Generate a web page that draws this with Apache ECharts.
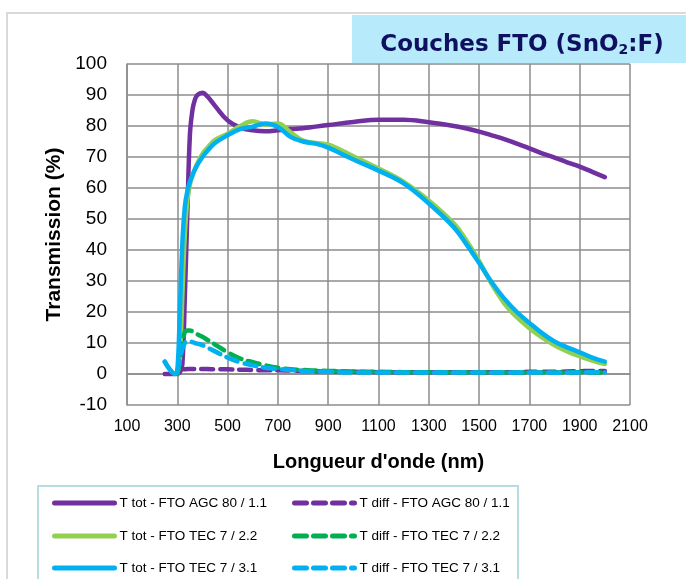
<!DOCTYPE html>
<html>
<head>
<meta charset="utf-8">
<script src="https://cdn.jsdelivr.net/npm/echarts@6/dist/echarts.min.js"></script>
<style>html,body{margin:0;padding:0;background:#fff;}#c{width:686px;height:579px;}</style>
</head>
<body>
<div id="c"></div>
<script>
const wavelengths = [250,270,290,300,310,320,330,340,350,360,370,380,400,420,450,500,550,600,650,700,750,800,850,900,1000,1100,1200,1300,1400,1450,1500,1550,1600,1650,1700,1750,1800,1850,1900,1950,2000];

const totAGC = [null,null,null,0,0.5,3,25,52,77,85,88.5,90,90.7,89.5,86.5,81.8,79.5,78.6,78.3,78.6,79,79.3,79.8,80.3,81.3,82,82,81.2,80,79.2,78.2,77,75.8,74.3,72.8,71.2,69.8,68.3,66.9,65.2,63.5];
const diffAGC = [0,0,0,0.3,1,1.5,1.5,1.6,1.6,1.6,1.6,1.6,1.6,1.6,1.5,1.5,1.4,1.3,1.2,1.2,1.1,1,0.9,0.8,0.7,0.6,0.6,0.6,0.6,0.6,0.6,0.6,0.6,0.6,0.7,0.7,0.7,0.8,0.9,1,1];
const totTEC22 = [null,null,null,0,5,25,45,56,61,64,66,68,71,73,75.5,77.5,80,81.5,80.5,80.8,78,75.3,74.5,74,70.2,66.3,62,56,48.5,43,36.5,29,22.8,18.3,14.8,11.8,9.3,7.3,5.7,4.3,3.2];
const diffTEC22 = [null,null,null,0,4,10,13.5,14,14,13.8,13.3,12.8,12,11,9.5,7,5,3.8,2.8,2,1.5,1.3,1.1,1,0.8,0.7,0.6,0.6,0.5,0.5,0.5,0.5,0.5,0.5,0.5,0.5,0.5,0.5,0.6,0.5,0.5];
const totTEC31 = [4,1.5,0,1,20,42,54,59,62,64,66,67.5,70,72,74.5,77,79,79.8,80.8,79.7,76.5,75,74.3,73,69.2,65.6,61.5,55,47.3,41.8,35.8,29.6,24.3,20,16.5,13.2,10.5,8.6,7,5.3,4];
const diffTEC31 = [4,1.5,0,1,5,8,10,10.5,10.5,10.3,10,9.8,9.3,8.5,7.3,5.3,3.8,2.8,2,1.6,1.3,1,0.8,0.7,0.5,0.5,0.5,0.5,0.5,0.5,0.5,0.5,0.5,0.5,0.5,0.5,0.4,0.5,0.5,0.6,0.5];

const xTicks = {min:100, max:2100, interval:200};
const yTicks = {min:-10, max:100, interval:10};

const names = {
  totAGC:'T tot - FTO AGC 80 / 1.1', diffAGC:'T diff - FTO AGC 80 / 1.1',
  totTEC22:'T tot - FTO TEC 7 / 2.2', diffTEC22:'T diff - FTO TEC 7 / 2.2',
  totTEC31:'T tot - FTO TEC 7 / 3.1', diffTEC31:'T diff - FTO TEC 7 / 3.1'
};
const colors = {AGC:'#7030a0', TEC22:'#92d050', TEC22d:'#00b050', TEC31:'#00b0f0'};
const DASH = [12,7];

function pairs(vals){ return wavelengths.map((w,i)=>[w, vals[i]]); }
function mk(name, vals, color, dashed){
  return {
    name, type:'line', data: pairs(vals), showSymbol:false, symbol:'none',
    smooth:0.4, connectNulls:false,
    lineStyle:{color, width:4.5, type: dashed ? DASH : 'solid', cap:'round', join:'round'},
    itemStyle:{color}, emphasis:{disabled:true}, animation:false
  };
}

const legendText = {fontFamily:'Liberation Sans, Arial, sans-serif', fontSize:13.5, color:'#000', lineHeight:14};
function lg(name, left, top){
  return {left, top, padding:0, itemWidth:60, itemHeight:14, textStyle:legendText,
    itemStyle:{opacity:0, borderWidth:0},
    lineStyle:{width:5, cap:'round', opacity:1}, data:[name], selectedMode:false};
}

const chart = echarts.init(document.getElementById('c'));
chart.setOption({
  animation:false,
  grid:{left:127, right:56, top:64, bottom:174, containLabel:false},
  graphic:[
    {type:'rect', shape:{x:7, y:13, width:700, height:600}, style:{fill:'none', stroke:'#d9d9d9', lineWidth:2}, z:-10},
    {type:'rect', shape:{x:352, y:15, width:340, height:48}, style:{fill:'#b7ebfb', stroke:'none'}, z:-5},
    {type:'rect', shape:{x:38, y:486, width:480, height:120}, style:{fill:'none', stroke:'#b7dde3', lineWidth:2}, z:-5}
  ],
  title:{
    text:'{a|Couches FTO (SnO}{b|2}{a|:F)}', left:517, top:40, textAlign:'center', textVerticalAlign:'middle',
    textStyle:{rich:{
      a:{fontFamily:'DejaVu Sans', fontWeight:'bold', fontSize:23, color:'#0f1060'},
      b:{fontFamily:'DejaVu Sans', fontWeight:'bold', fontSize:14, color:'#0f1060', verticalAlign:'bottom', padding:[10,0,0,0]}
    }}
  },
  legend:[
    lg(names.totAGC, 52, 496), lg(names.totTEC22, 52, 529), lg(names.totTEC31, 52, 561),
    lg(names.diffAGC, 292, 496), lg(names.diffTEC22, 292, 529), lg(names.diffTEC31, 292, 561)
  ],
  xAxis:{
    type:'value', min:xTicks.min, max:xTicks.max, interval:xTicks.interval,
    name:'Longueur d\'onde (nm)', nameLocation:'middle', nameGap:47,
    nameTextStyle:{fontFamily:'Liberation Sans, Arial, sans-serif', fontWeight:'bold', fontSize:20, color:'#000'},
    axisLine:{show:true, lineStyle:{color:'#8c8c8c', width:1.5}},
    axisTick:{show:false},
    axisLabel:{fontFamily:'Liberation Sans, Arial, sans-serif', fontSize:16, color:'#000', margin:14, formatter:v=>String(v)},
    splitLine:{show:true, lineStyle:{color:'#8c8c8c', width:1.5}}
  },
  yAxis:{
    type:'value', min:yTicks.min, max:yTicks.max, interval:yTicks.interval,
    name:'Transmission (%)', nameLocation:'middle', nameGap:59,
    nameTextStyle:{fontFamily:'Liberation Sans, Arial, sans-serif', fontWeight:'bold', fontSize:21, color:'#000'},
    axisLine:{show:true, lineStyle:{color:'#8c8c8c', width:1.5}},
    axisTick:{show:false},
    axisLabel:{fontFamily:'Liberation Sans, Arial, sans-serif', fontSize:19, color:'#000', margin:20, formatter:v=>String(v)},
    splitLine:{show:true, lineStyle:{color:'#8c8c8c', width:1.5}}
  },
  series:[
    mk(names.totAGC, totAGC, colors.AGC, false),
    mk(names.diffAGC, diffAGC, colors.AGC, true),
    mk(names.totTEC22, totTEC22, colors.TEC22, false),
    mk(names.diffTEC22, diffTEC22, colors.TEC22d, true),
    mk(names.totTEC31, totTEC31, colors.TEC31, false),
    mk(names.diffTEC31, diffTEC31, colors.TEC31, true)
  ]
});
</script>
</body>
</html>
